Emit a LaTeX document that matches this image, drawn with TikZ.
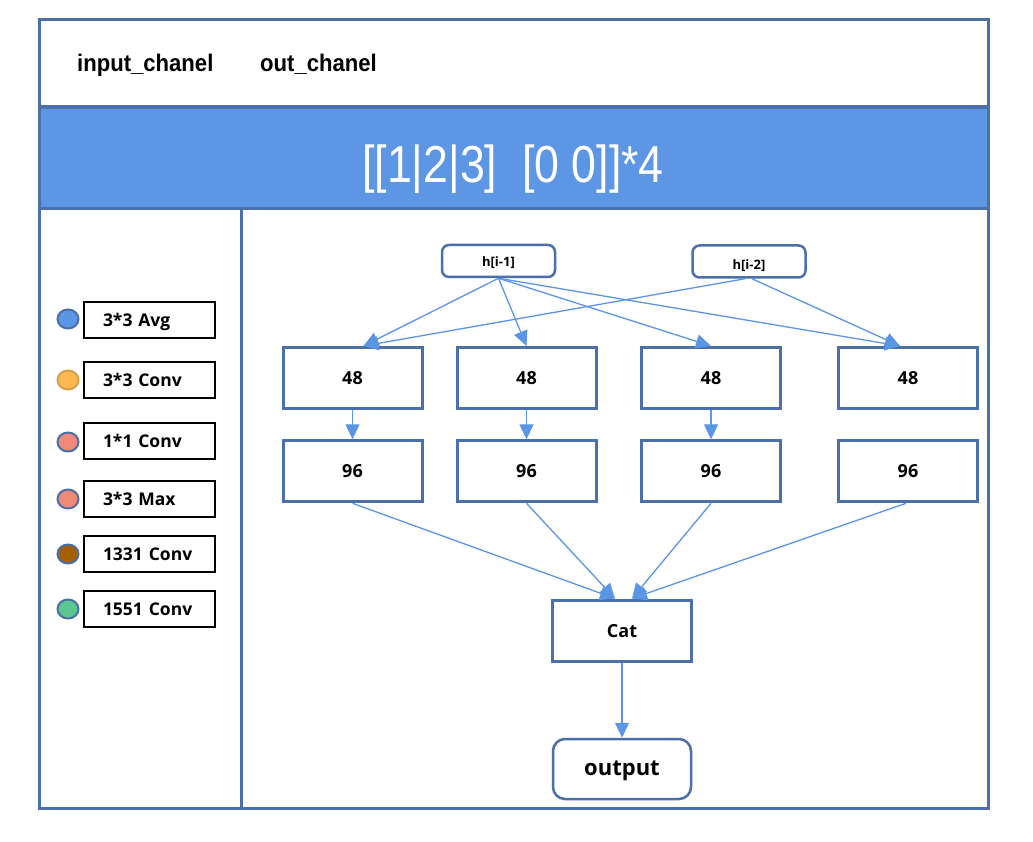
\documentclass[tikz,border=0pt]{standalone}
\usepackage{fontspec}
\newfontfamily\lsans{Liberation Sans}
\newfontfamily\nsans{Open Sans}
\usetikzlibrary{arrows.meta,calc,shapes.geometric}
\definecolor{framecol}{RGB}{74,111,169}
\definecolor{bandcol}{RGB}{94,150,230}
\definecolor{arrowcol}{RGB}{91,149,229}
\definecolor{dotblue}{RGB}{91,149,229}
\definecolor{dotorange}{RGB}{255,183,82}
\definecolor{dotorangeb}{RGB}{214,158,72}
\definecolor{dotsalmon}{RGB}{240,138,118}
\definecolor{dotbrown}{RGB}{166,96,0}
\definecolor{dotgreen}{RGB}{90,198,144}
\begin{document}
\begin{tikzpicture}[x=1pt,y=-1pt,
  hdrtext/.style={inner sep=0pt, anchor=base west, font=\lsans\bfseries\fontsize{24}{24}\selectfont},
  legdot/.style={ellipse, line width=2pt, minimum width=21pt, minimum height=19pt, inner sep=0pt},
  legbox/.style={draw=black, line width=2pt, minimum height=36pt, text width=93pt, inner xsep=19pt, inner ysep=0pt, align=left, text height=12.5pt, text depth=0pt, font=\nsans\bfseries\fontsize{17.5}{17.5}\selectfont},
  blk/.style={draw=framecol, line width=3pt, minimum width=139pt, minimum height=61pt, inner sep=0pt, text height=13pt, text depth=0pt, font=\nsans\bfseries\fontsize{18}{18}\selectfont},
  hbox/.style={draw=framecol, line width=2.5pt, rounded corners=7pt, minimum width=113pt, minimum height=32pt, inner sep=0pt, text depth=0pt, font=\nsans\bfseries\fontsize{13}{13}\selectfont},
  outbox/.style={draw=framecol, line width=2.5pt, rounded corners=12pt, minimum width=138pt, minimum height=60pt, inner sep=0pt, text height=12pt, text depth=0pt, font=\nsans\bfseries\fontsize{22}{22}\selectfont},
  arr/.style={draw=arrowcol, line width=1.3pt, -{Triangle[length=15pt,width=14pt]}}
]
\useasboundingbox (0,0) rectangle (1033,842);
\fill[white] (0,0) rectangle (1033,842);
% frame and band
\fill[bandcol] (39,107) rectangle (988,209);
\draw[framecol, line width=3pt] (39,20) rectangle (988,808);
\draw[framecol, line width=3.5pt] (39,107) -- (988,107);
\draw[framecol, line width=3pt] (39,209) -- (988,209);
\draw[framecol, line width=3pt] (241,209) -- (241,808);

% header texts
\node[hdrtext] (inch) at (77,72) {\scalebox{0.92}[1]{input\_chanel}};
\node[hdrtext] (outch) at (260,72) {\scalebox{0.92}[1]{out\_chanel}};
\node[inner sep=0pt, anchor=base, text=white, font=\lsans\fontsize{52}{52}\selectfont] (title) at (513,183) {\scalebox{0.86}[1]{[[1|2|3]\ \ [0 0]]*4}};

% legend
\node[legdot, fill=dotblue, draw=framecol] (d1) at (68,319) {};
\node[legdot, fill=dotorange, draw=dotorangeb] (d2) at (68,380) {};
\node[legdot, fill=dotsalmon, draw=framecol] (d3) at (68,442) {};
\node[legdot, fill=dotsalmon, draw=framecol] (d4) at (68,499) {};
\node[legdot, fill=dotbrown, draw=framecol] (d5) at (68,554) {};
\node[legdot, fill=dotgreen, draw=framecol] (d6) at (68,609) {};
\node[legbox] (l1) at (149.5,320) {3*3 Avg};
\node[legbox] (l2) at (149.5,380) {3*3 Conv};
\node[legbox] (l3) at (149.5,441) {1*1 Conv};
\node[legbox] (l4) at (149.5,499) {3*3 Max};
\node[legbox] (l5) at (149.5,554) {1331 Conv};
\node[legbox] (l6) at (149.5,609) {1551 Conv};

% main graph
\node[hbox, text height=12pt] (h1) at (498.5,261) {h[i-1]};
\node[hbox, text height=17pt] (h2) at (749,261.5) {h[i-2]};

\node[blk] (b1) at (352.5,378) {48};
\node[blk] (b2) at (526.5,378) {48};
\node[blk] (b3) at (711,378) {48};
\node[blk] (b4) at (908,378) {48};

\node[blk] (c1) at (352.5,471.3) {96};
\node[blk] (c2) at (526.5,471.3) {96};
\node[blk] (c3) at (711,471.3) {96};
\node[blk] (c4) at (908,471.3) {96};

\node[blk] (cat) at (622,630.5) {Cat};
\node[outbox] (out) at (622,769) {output};

% connectors
\draw[arr] (h1.south) -- ($(b1.north)+(11,0)$);
\draw[arr] (h1.south) -- (b2.north);
\draw[arr] (h1.south) -- (b3.north);
\draw[arr] (h1.south) -- ($(b4.north)+(-8,0)$);
\draw[arr] ($(h2.south)+(-4,0)$) -- ($(b1.north)+(11,0)$);
\draw[arr] ($(h2.south)+(3,0)$) -- ($(b4.north)+(-8,0)$);

\draw[arr] (b1.south) -- (c1.north);
\draw[arr] (b2.south) -- (c2.north);
\draw[arr] (b3.south) -- (c3.north);

\draw[arr] (c1.south) -- ($(cat.north)+(-7,0)$);
\draw[arr] (c2.south) -- ($(cat.north)+(-7,0)$);
\draw[arr] (c3.south) -- ($(cat.north)+(10,0)$);
\draw[arr] ($(c4.south)+(-2,0)$) -- ($(cat.north)+(10,0)$);

\draw[arr] (cat.south) -- (out.north);
\end{tikzpicture}
\end{document}
